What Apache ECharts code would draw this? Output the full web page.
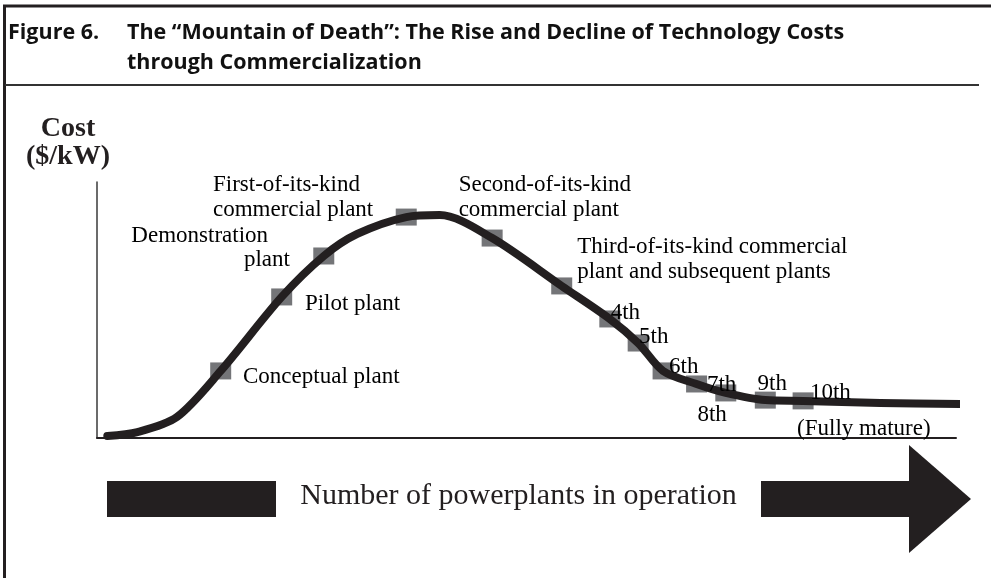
<!DOCTYPE html>
<html>
<head>
<meta charset="utf-8">
<script src="https://cdn.jsdelivr.net/npm/echarts@6/dist/echarts.min.js"></script>
<style>
  html, body { margin: 0; padding: 0; background: #fff; }
  #chart { width: 991px; height: 578px; }
</style>
</head>
<body>
<div id="chart"></div>
<script>
var chart = echarts.init(document.getElementById('chart'));

// cost curve (x: plants in operation, y: cost, both in relative units 0-100)
var curveX = [1.2, 4.7, 9.3, 14.4, 21.5, 26.4, 30.3, 36.0, 39.9, 46.0, 54.1, 59.7, 63.0, 65.9, 69.8, 73.2, 77.8, 82.2, 91.2, 100.5];
var curveY = [0.8, 2.3, 8.2, 26.2, 55.1, 71.1, 79.7, 86.3, 87.1, 78.1, 59.4, 46.5, 37.1, 26.2, 21.1, 17.6, 14.8, 14.5, 13.7, 13.3];

// plants marked on the curve
var plantNames = ['Conceptual', 'Pilot', 'Demonstration', 'First', 'Second', 'Third', '4th', '5th', '6th', '7th', '8th', '9th', '10th'];
var plantX = [14.4, 21.5, 26.4, 36.0, 46.0, 54.1, 59.7, 63.0, 65.9, 69.8, 73.2, 77.8, 82.2];
var plantY = [26.2, 55.1, 71.1, 86.3, 78.1, 59.4, 46.5, 37.1, 26.2, 21.1, 17.6, 14.8, 14.5];

// annotation texts, anchored at their left/middle point
var noteText = [
    'First-of-its-kind\ncommercial plant',
    'Demonstration',
    'plant',
    'Pilot plant',
    'Conceptual plant',
    'Second-of-its-kind\ncommercial plant',
    'Third-of-its-kind commercial\nplant and subsequent plants',
    '4th', '5th', '6th', '7th', '8th', '9th', '10th',
    '(Fully mature)'
];
var noteX = [13.5, 4.0, 17.1, 24.2, 17.0, 42.1, 55.9, 59.8, 63.1, 66.6, 71.0, 69.9, 76.9, 83.0, 81.5];
var noteY = [94.1, 78.9, 69.5, 52.3, 23.8, 94.1, 69.7, 48.8, 39.5, 27.7, 20.7, 9.0, 21.1, 17.5, 3.5];

var ink = '#231f20';
var serif = '"Liberation Serif", "Times New Roman", serif';
var sans = '"Open Sans", Lato, sans-serif';

var curveData = [];
for (var i = 0; i < curveX.length; i++) {
    curveData.push([curveX[i], curveY[i]]);
}
var plantData = [];
for (var i = 0; i < plantX.length; i++) {
    plantData.push({name: plantNames[i], value: [plantX[i], plantY[i]]});
}
var noteData = [];
for (var i = 0; i < noteText.length; i++) {
    noteData.push({name: noteText[i], value: [noteX[i], noteY[i]]});
}

var option = {
    animation: false,
    backgroundColor: '#fff',
    grid: {
        left: 97,
        right: 35,
        top: 182,
        bottom: 140
    },
    xAxis: {
        type: 'value',
        min: 0,
        max: 100,
        name: 'Number of powerplants in operation',
        nameLocation: 'middle',
        nameGap: 43,
        nameTextStyle: {
            fontFamily: serif,
            fontSize: 30,
            color: ink,
            padding: [0, 16, 0, 0]
        },
        axisLine: {lineStyle: {color: ink, width: 2}},
        axisTick: {show: false},
        axisLabel: {show: false},
        splitLine: {show: false}
    },
    yAxis: {
        type: 'value',
        min: 0,
        max: 100,
        name: 'Cost\n($/kW)',
        nameLocation: 'end',
        nameGap: 11,
        nameTextStyle: {
            fontFamily: serif,
            fontWeight: 'bold',
            fontSize: 28,
            lineHeight: 28,
            color: ink,
            align: 'center',
            padding: [0, 58, 0, 0]
        },
        axisLine: {lineStyle: {color: '#3a3a3a', width: 1.5}},
        axisTick: {show: false},
        axisLabel: {show: false},
        splitLine: {show: false}
    },
    series: [
        {
            name: 'cost',
            type: 'line',
            data: curveData,
            smooth: 0.3,
            symbol: 'none',
            clip: false,
            lineStyle: {color: ink, width: 8, cap: 'round', join: 'round'}
        },
        {
            name: 'plants',
            type: 'scatter',
            data: plantData,
            symbol: 'rect',
            symbolSize: [21, 17],
            itemStyle: {color: '#747578', opacity: 1}
        },
        {
            name: 'notes',
            type: 'scatter',
            data: noteData,
            symbolSize: 0,
            silent: true,
            z: 5,
            itemStyle: {opacity: 1},
            label: {
                show: true,
                position: 'right',
                distance: 0,
                formatter: '{b}',
                fontFamily: serif,
                fontSize: 23,
                lineHeight: 25,
                color: '#000',
                opacity: 1,
                align: 'left',
                verticalAlign: 'middle'
            }
        }
    ],
    graphic: [
        // frame
        {type: 'line', shape: {x1: 3, y1: 6, x2: 991, y2: 6}, style: {stroke: ink, lineWidth: 3}},
        {type: 'line', shape: {x1: 4.5, y1: 5, x2: 4.5, y2: 578}, style: {stroke: ink, lineWidth: 3}},
        {type: 'line', shape: {x1: 5, y1: 85, x2: 979, y2: 85}, style: {stroke: '#333', lineWidth: 2}},
        // figure title
        {
            type: 'text', left: 8, top: 18,
            style: {
                text: 'Figure 6.',
                fontFamily: sans,
                fontWeight: 'bold',
                fontSize: 21.5,
                lineHeight: 30,
                fill: '#111'
            }
        },
        {
            type: 'text', left: 127, top: 18,
            style: {
                text: 'The \u201cMountain of Death\u201d: The Rise and Decline of Technology Costs\nthrough Commercialization',
                fontFamily: sans,
                fontWeight: 'bold',
                fontSize: 21.5,
                lineHeight: 30,
                fill: '#111'
            }
        },
        // big arrow under the x axis
        {type: 'rect', shape: {x: 107, y: 481, width: 169, height: 36}, style: {fill: ink}},
        {type: 'rect', shape: {x: 761, y: 481, width: 149, height: 36}, style: {fill: ink}},
        {type: 'polygon', shape: {points: [[909, 445], [971, 499], [909, 553]]}, style: {fill: ink}}
    ]
};

chart.setOption(option);
</script>
</body>
</html>
